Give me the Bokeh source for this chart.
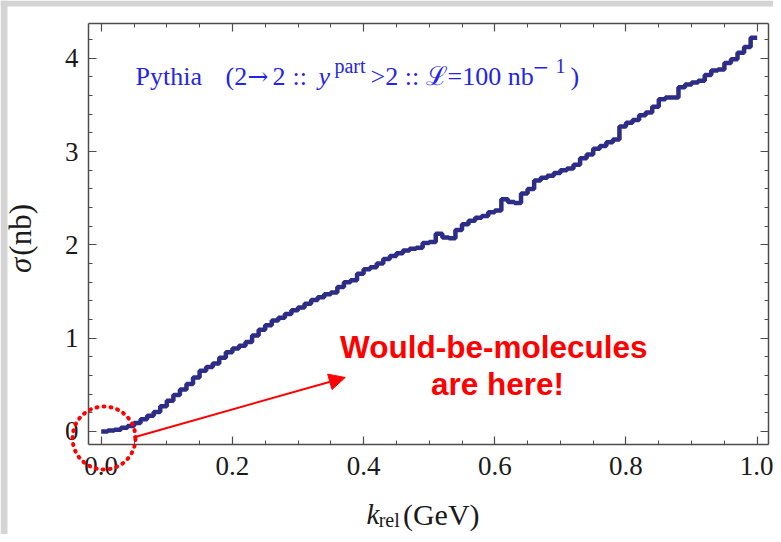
import numpy as np
from bokeh.plotting import figure
from bokeh.models import (Range1d, LinearAxis, FixedTicker, NumeralTickFormatter,
                          CustomJSTickFormatter, Label, Arrow, NormalHead,
                          PolyAnnotation, BoxAnnotation)
from bokeh.embed import file_html
from bokeh.resources import INLINE

# ---------------- data ----------------
bin_edges = np.round(np.linspace(0.0, 1.0, 101), 3)
sigma_nb = [
    0.00, 0.01, 0.02, 0.04, 0.06, 0.09, 0.13, 0.17, 0.21, 0.27,
    0.33, 0.39, 0.45, 0.51, 0.58, 0.65, 0.69, 0.73, 0.79, 0.85,
    0.89, 0.92, 0.96, 1.03, 1.09, 1.14, 1.19, 1.22, 1.26, 1.30,
    1.33, 1.37, 1.41, 1.44, 1.47, 1.49, 1.55, 1.60, 1.62, 1.69,
    1.74, 1.76, 1.80, 1.85, 1.88, 1.91, 1.94, 1.96, 1.97, 2.02,
    2.03, 2.12, 2.08, 2.07, 2.16, 2.22, 2.26, 2.29, 2.31, 2.35,
    2.37, 2.49, 2.46, 2.45, 2.55, 2.60, 2.69, 2.72, 2.74, 2.77,
    2.80, 2.82, 2.86, 2.93, 2.97, 3.03, 3.06, 3.10, 3.13, 3.27,
    3.31, 3.34, 3.39, 3.42, 3.48, 3.56, 3.58, 3.58, 3.69, 3.72,
    3.74, 3.76, 3.82, 3.87, 3.88, 3.95, 3.99, 4.06, 4.12, 4.22,
]
x_major_ticks = [0.0, 0.2, 0.4, 0.6, 0.8, 1.0]
x_minor_ticks = [0.0, 0.05, 0.1, 0.15, 0.2, 0.25, 0.3, 0.35, 0.4, 0.45, 0.5,
                 0.55, 0.6, 0.65, 0.7, 0.75, 0.8, 0.85, 0.9, 0.95, 1.0]
y_major_ticks = [0, 1, 2, 3, 4]
y_minor_ticks = [0.0, 0.2, 0.4, 0.6, 0.8, 1.0, 1.2, 1.4, 1.6, 1.8, 2.0, 2.2,
                 2.4, 2.6, 2.8, 3.0, 3.2, 3.4, 3.6, 3.8, 4.0, 4.2]

# plot box (data limits of the framed area)
X0, X1 = -0.0194, 1.0172
Y0, Y1 = -0.1393, 4.373

# ---------------- figure ----------------
# the frame covers the whole canvas; axes are drawn at fixed locations
p = figure(width=773, height=534,
           x_range=Range1d(-0.15351, 1.02485), y_range=Range1d(-1.10397, 4.6195),
           output_backend="svg", toolbar_location=None,
           x_axis_location=None, y_axis_location=None,
           min_border=0)
p.grid.visible = False
p.outline_line_color = None
p.background_fill_color = "white"
p.border_fill_color = "white"

# grey slide strips (top & left)
GREY = "#d4d4d4"
p.add_layout(BoxAnnotation(left=-0.15351, right=-0.15351 + 7 / 656, bottom=-1.10397,
                           top=4.6195, fill_color=GREY, fill_alpha=1, line_color=None))
p.add_layout(BoxAnnotation(left=-0.15351, right=1.02485, bottom=4.6195 - 6 / 93.3,
                           top=4.6195, fill_color=GREY, fill_alpha=1, line_color=None))

AX = "#4d4d4d"
SERIF = "Liberation Serif"


def style_axis(ax, labels=True):
    ax.axis_line_color = AX
    ax.axis_line_width = 1.5
    ax.major_tick_line_color = AX
    ax.minor_tick_line_color = AX
    ax.major_tick_line_width = 1.2
    ax.minor_tick_line_width = 1.0
    ax.major_tick_in = 8
    ax.major_tick_out = 0
    ax.minor_tick_in = 4
    ax.minor_tick_out = 0
    if labels:
        ax.major_label_text_font = SERIF
        ax.major_label_text_font_size = "27px"
        ax.major_label_text_color = "#1a1a1a"
    else:
        ax.formatter = CustomJSTickFormatter(code="return ''")
        ax.major_label_standoff = 0


xb = LinearAxis(ticker=FixedTicker(ticks=x_major_ticks, minor_ticks=x_minor_ticks),
                formatter=NumeralTickFormatter(format="0.0"),
                fixed_location=Y0, bounds=(X0, X1))
style_axis(xb)
xb.major_label_standoff = 13
p.add_layout(xb, "below")

yl = LinearAxis(ticker=FixedTicker(ticks=y_major_ticks, minor_ticks=y_minor_ticks),
                formatter=NumeralTickFormatter(format="0"),
                fixed_location=X0, bounds=(Y0, Y1))
style_axis(yl)
yl.major_label_standoff = 10
p.add_layout(yl, "left")

xt = LinearAxis(ticker=FixedTicker(ticks=x_major_ticks, minor_ticks=x_minor_ticks),
                fixed_location=Y1, bounds=(X0, X1))
style_axis(xt, labels=False)
p.add_layout(xt, "above")

yr = LinearAxis(ticker=FixedTicker(ticks=y_major_ticks, minor_ticks=y_minor_ticks),
                fixed_location=X1, bounds=(Y0, Y1))
style_axis(yr, labels=False)
p.add_layout(yr, "right")

# ---------------- histogram ----------------
step_y = list(sigma_nb) + [sigma_nb[-1]]
p.step(x=list(bin_edges), y=step_y, mode="after",
       line_color="#2d2c87", line_width=4.5)

# ---------------- title text pieces ----------------
BLUE = "#2424e8"
tb = 3.805
sb = 3.915
pieces = [
    ("Pythia", 0.0524, tb, "26px", "normal", SERIF),
    ("(2", 0.1895, tb, "26px", "normal", SERIF),
    ("\u2192", 0.2230, tb, "25px", "normal", "DejaVu Serif"),
    ("2", 0.2611, tb, "26px", "normal", SERIF),
    ("::", 0.2916, tb, "26px", "normal", SERIF),
    ("y", 0.3313, tb, "26px", "italic", SERIF),
    ("part", 0.3556, sb, "20px", "normal", SERIF),
    (">2 :: \u2112=100 nb", 0.4105, tb, "26px", "normal", SERIF),
    ("\u2212", 0.6575, sb, "20px", "normal", "DejaVu Serif"),
    ("1", 0.6925, sb, "20px", "normal", SERIF),
    (")", 0.7155, tb, "26px", "normal", SERIF),
]
for txt, x, y, fs, st, fnt in pieces:
    p.add_layout(Label(x=x, y=y, text=txt, text_font=fnt, text_font_size=fs,
                       text_font_style=st, text_color=BLUE,
                       text_baseline="alphabetic", text_align="left"))

# ---------------- axis labels ----------------
INK = "#1a1a1a"
p.add_layout(Label(x=-0.1230, y=1.700, text="\u03c3", angle=np.pi / 2,
                   text_font=SERIF, text_font_size="31px", text_font_style="italic",
                   text_color=INK, text_align="left", text_baseline="alphabetic"))
p.add_layout(Label(x=-0.1230, y=1.885, text="(nb)", angle=np.pi / 2,
                   text_font=SERIF, text_font_size="31px", text_color=INK,
                   text_align="left", text_baseline="alphabetic"))
p.add_layout(Label(x=0.4044, y=-0.885, text="k", text_font=SERIF,
                   text_font_size="29px", text_font_style="italic",
                   text_color=INK, text_baseline="alphabetic"))
p.add_layout(Label(x=0.4230, y=-0.945, text="rel", text_font=SERIF,
                   text_font_size="20px", text_color=INK,
                   text_baseline="alphabetic"))
p.add_layout(Label(x=0.4600, y=-0.885, text="(GeV)", text_font=SERIF,
                   text_font_size="30px", text_color=INK,
                   text_baseline="alphabetic"))

# ---------------- red annotation ----------------
RED = "#ff0000"
p.add_layout(Label(x=0.5985, y=0.911, text="Would-be-molecules",
                   text_font="Liberation Sans", text_font_style="bold",
                   text_font_size="31.5px", text_color=RED,
                   text_align="center", text_baseline="alphabetic"))
p.add_layout(Label(x=0.6040, y=0.504, text="are here!",
                   text_font="Liberation Sans", text_font_style="bold",
                   text_font_size="31.5px", text_color=RED,
                   text_align="center", text_baseline="alphabetic"))

p.add_layout(Arrow(end=NormalHead(size=16, fill_color=RED, line_color=RED),
                   x_start=0.049, y_start=-0.064, x_end=0.372, y_end=0.579,
                   line_color=RED, line_width=2))

# dotted circle around the origin
t = np.linspace(0, 2 * np.pi, 160)
cx, cy, rx, ry = 0.0043, -0.07, 0.048, 0.3376
p.add_layout(PolyAnnotation(xs=list(cx + rx * np.cos(t)), ys=list(cy + ry * np.sin(t)),
                            fill_alpha=0, line_color=RED, line_alpha=1, line_width=4,
                            line_dash="1 6", line_cap="round"))

open("out.html", "w").write(file_html(p, INLINE))
